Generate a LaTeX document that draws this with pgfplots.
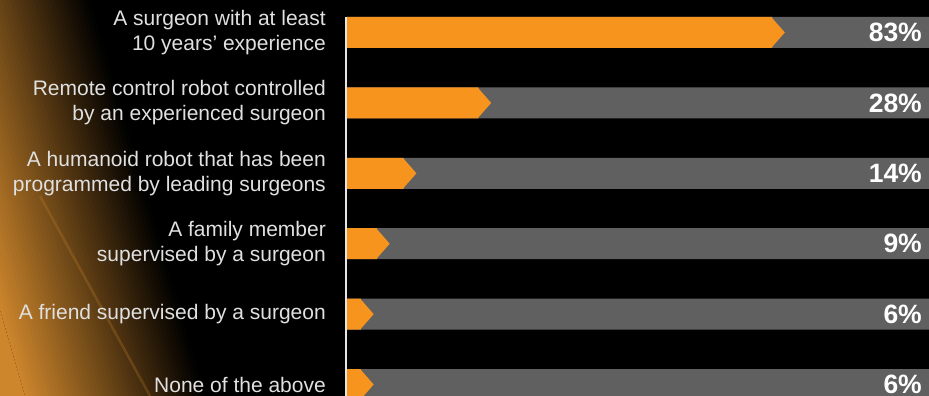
\documentclass[border=0pt]{standalone}
\usepackage{fontspec}
\setmainfont{Liberation Sans}
\usepackage{pgfplots}
\usepackage{pgfplotstable}
\pgfplotsset{compat=1.18}
\definecolor{barorange}{RGB}{247,148,30}
\definecolor{bargray}{RGB}{96,96,96}
\definecolor{amber}{RGB}{205,134,44}
\pgfdeclareplotmark{chev}{%
  \pgfpathmoveto{\pgfpoint{-13.6pt}{-15.5pt}}%
  \pgfpathlineto{\pgfpoint{0pt}{0pt}}%
  \pgfpathlineto{\pgfpoint{-13.6pt}{15.5pt}}%
  \pgfpathclose\pgfusepathqfill}
\pgfplotstableread{
y v full
0 83 110
1 28 110
2 14 110
3 9 110
4 6 110
5 6 110
}\data
\begin{document}
\begin{tikzpicture}[x=1pt,y=1pt]
\useasboundingbox (0pt,0pt) rectangle (929pt,396pt);
\clip (0pt,0pt) rectangle (929pt,396pt);
\fill[black] (0pt,0pt) rectangle (929pt,396pt);
\fill[amber] (-300pt,0pt) -- (25pt,0pt) -- (-90pt,396pt) -- (-400pt,396pt) -- cycle;
\foreach \i in {0,...,44} {
  \pgfmathsetmacro\xa{25+4*\i}
  \pgfmathsetmacro\xb{\xa+4.6}
  \pgfmathsetmacro\xc{\xa-115}
  \pgfmathsetmacro\xd{\xb-115}
  \pgfmathsetmacro\ff{1-(\i+0.5)/45}
  \pgfmathsetmacro\rr{0.804*\ff}
  \pgfmathsetmacro\gg{0.525*\ff}
  \pgfmathsetmacro\bb{0.173*\ff}
  \definecolor{stripc}{rgb}{\rr,\gg,\bb}
  \fill[stripc] (\xa pt,0pt) -- (\xb pt,0pt) -- (\xd pt,396pt) -- (\xc pt,396pt) -- cycle;
}
\draw[amber, opacity=0.25, line width=2.5pt] (150pt,0pt) -- (40pt,200pt);
\begin{axis}[name=ax, at={(347pt,0pt)}, anchor=south west,
  width=582pt, height=379pt, scale only axis,
  xmin=1, xmax=110, ymin=-0.22, ymax=5.163, y dir=reverse,
  axis line style={draw=none}, xtick=\empty,
  ytick={0,1,2,3,4,5}, major tick length=0pt, ytick style={draw=none},
  yticklabels={{A surgeon with at least\\10 years’ experience},
    {Remote control robot controlled\\by an experienced surgeon},
    {A humanoid robot that has been\\programmed by leading surgeons},
    {A family member\\supervised by a surgeon},
    {A friend supervised by a surgeon},
    {None of the above}},
  yticklabel style={align=right, anchor=east, inner sep=0pt, xshift=-21pt,
    font=\fontsize{21}{25}\selectfont, text=white!88!black},
]
\addplot[xbar, bar width=31pt, bar shift=0pt, fill=bargray, draw=none] table[x=full, y=y] {\data};
\addplot[xbar, bar width=31pt, bar shift=0pt, fill=barorange, draw=none] table[x expr=\thisrow{v}-2.4, y=y] {\data};
\addplot[only marks, mark=chev, color=barorange, mark options={fill=barorange, draw=none}] table[x=v, y=y] {\data};
\addplot[only marks, mark=none, point meta=explicit symbolic,
  nodes near coords={\pgfplotspointmeta\%}, nodes near coords align={anchor=east},
  every node near coord/.append style={anchor=east, inner sep=0pt, xshift=-7pt, text=white, font=\fontsize{26.5}{26.5}\selectfont\bfseries}]
  table[x=full, y=y, meta=v] {\data};
\end{axis}
\draw[white!90!black, line width=2.4pt] ([xshift=-1.3pt]ax.south west) -- ([xshift=-1.3pt]ax.north west);
\end{tikzpicture}
\end{document}
